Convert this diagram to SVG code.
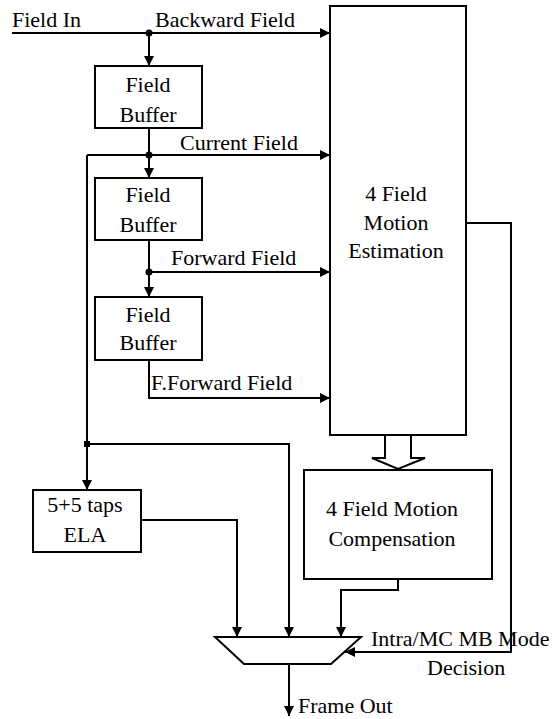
<svg xmlns="http://www.w3.org/2000/svg" width="553" height="719" viewBox="0 0 553 719">
<style>
.box{fill:#fff;stroke:#000;stroke-width:2}
.ln{fill:none;stroke:#000;stroke-width:2}
.t{font-family:"Liberation Serif","Times New Roman",serif;font-size:22px;fill:#000}
.c{text-anchor:middle}
</style>
<defs>
<marker id="ah" viewBox="0 0 10 10" refX="10" refY="5" markerWidth="10" markerHeight="10" markerUnits="userSpaceOnUse" orient="auto">
<path d="M0,0 L10,5 L0,10 z" fill="#000"/>
</marker>
</defs>
<rect width="553" height="719" fill="#fff"/>
<g id="connectors">
<path class="ln" d="M12,33 H330" marker-end="url(#ah)"/>
<path class="ln" d="M149,33 V66" marker-end="url(#ah)"/>
<path class="ln" d="M149,128 V178" marker-end="url(#ah)"/>
<path class="ln" d="M87,155 H330" marker-end="url(#ah)"/>
<path class="ln" d="M87,155 V490" marker-end="url(#ah)"/>
<path class="ln" d="M149,240 V297" marker-end="url(#ah)"/>
<path class="ln" d="M149,272 H330" marker-end="url(#ah)"/>
<path class="ln" d="M149,360 V398 H330" marker-end="url(#ah)"/>
<path class="ln" d="M87,444 H289 V637" marker-end="url(#ah)"/>
<path class="ln" d="M141,520 H237 V637" marker-end="url(#ah)"/>
<path class="ln" d="M398,579 V590 H341 V637" marker-end="url(#ah)"/>
<path class="ln" d="M466,223 H511 V652 H345" marker-end="url(#ah)"/>
<path class="ln" d="M289,664 V716" marker-end="url(#ah)"/>
<circle cx="149" cy="33" r="3.5"/>
<circle cx="149" cy="155" r="3.5"/>
<circle cx="149" cy="272" r="3.5"/>
<rect x="84" y="441" width="6" height="6"/>
<polygon class="box" points="385,435 385,458 372,458 398,469 425,458 411,458 411,435"/>
</g>
<g id="labels">
<text class="t" x="12" y="27">Field In</text>
<text class="t" x="155" y="27">Backward Field</text>
<text class="t" x="180" y="150">Current Field</text>
<text class="t" x="171" y="265">Forward Field</text>
<text class="t" x="151" y="390">F.Forward Field</text>
<text class="t" x="371" y="646">Intra/MC MB Mode</text>
<text class="t" x="427" y="675">Decision</text>
<text class="t" x="298" y="713">Frame Out</text>
</g>
<g id="buffer1">
<rect class="box" x="95" y="66" width="107" height="62"/>
<text class="t c" x="148" y="92">Field</text>
<text class="t c" x="148" y="122">Buffer</text>
</g>
<g id="buffer2">
<rect class="box" x="95" y="178" width="107" height="62"/>
<text class="t c" x="148" y="202">Field</text>
<text class="t c" x="148" y="232">Buffer</text>
</g>
<g id="buffer3">
<rect class="box" x="95" y="297" width="107" height="63"/>
<text class="t c" x="148" y="322">Field</text>
<text class="t c" x="148" y="350">Buffer</text>
</g>
<g id="me">
<rect class="box" x="330" y="6" width="136" height="429"/>
<text class="t c" x="396" y="201">4 Field</text>
<text class="t c" x="396" y="230">Motion</text>
<text class="t c" x="396" y="258">Estimation</text>
</g>
<g id="mc">
<rect class="box" x="304" y="470" width="188" height="109"/>
<text class="t c" x="392" y="516">4 Field Motion</text>
<text class="t c" x="392" y="546">Compensation</text>
</g>
<g id="ela">
<rect class="box" x="33" y="490" width="108" height="62"/>
<text class="t c" x="85" y="512">5+5 taps</text>
<text class="t c" x="85" y="542">ELA</text>
</g>
<g id="mux">
<polygon class="box" points="215,637 361,637 331,664 244,664"/>
</g>
</svg>
